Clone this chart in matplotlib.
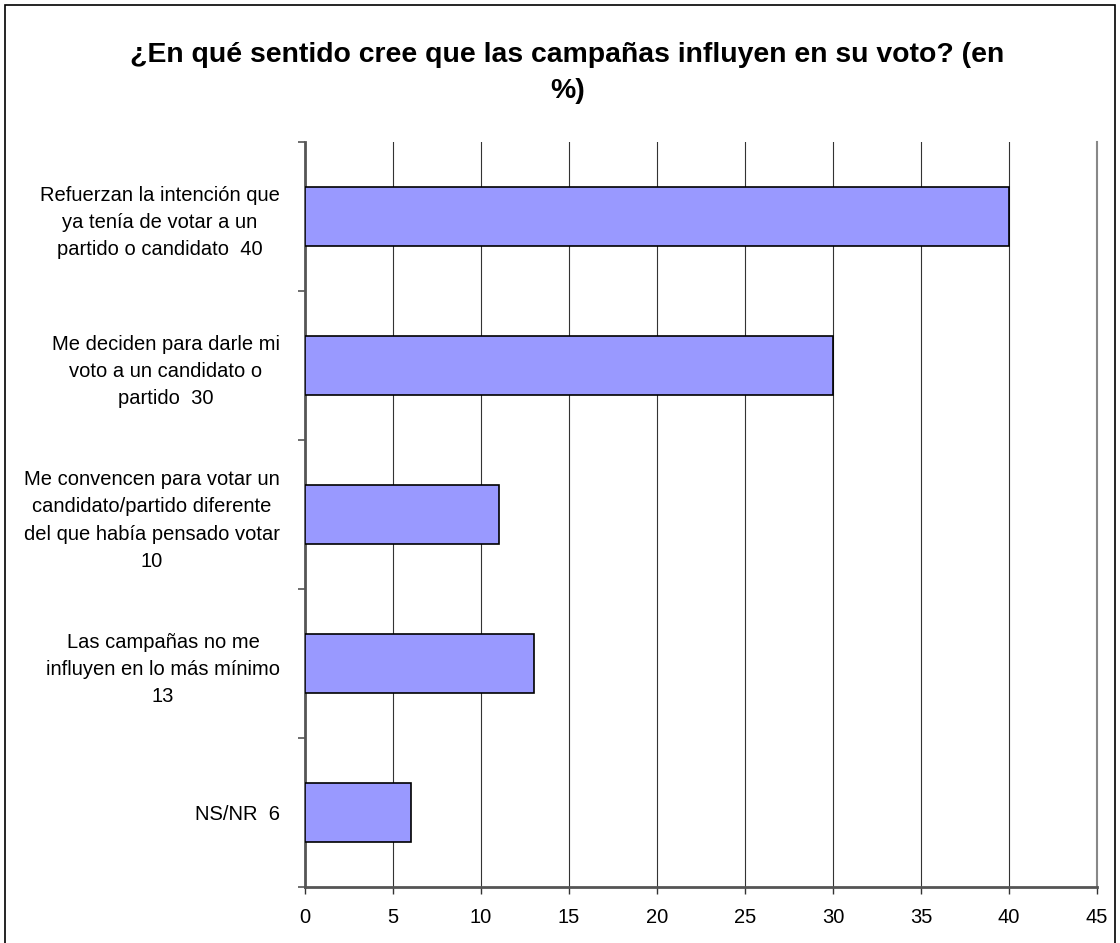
import matplotlib
matplotlib.use("Agg")
import matplotlib.pyplot as plt
from matplotlib.patches import Rectangle
import numpy as np

plt.rcParams['font.family'] = ['Liberation Sans', 'DejaVu Sans']

title = "¿En qué sentido cree que las campañas influyen en su voto? (en\n%)"
categories = [
    "Refuerzan la intención que\nya tenía de votar a un\npartido o candidato  40",
    "Me deciden para darle mi\nvoto a un candidato o\npartido  30",
    "Me convencen para votar un\ncandidato/partido diferente\ndel que había pensado votar\n10",
    "Las campañas no me\ninfluyen en lo más mínimo\n13",
    "NS/NR  6",
]
values = [40, 30, 11, 13, 6]
xticks = [0, 5, 10, 15, 20, 25, 30, 35, 40, 45]

W, H = 1120, 943
fig = plt.figure(figsize=(W / 100, H / 100), dpi=100)
left, right, top, bottom = 305, 1097, 142, 887
ax = fig.add_axes([left / W, 1 - bottom / H, (right - left) / W, (bottom - top) / H])

y = np.arange(len(categories))
ax.barh(y, values, height=0.4, color='#9999FF', edgecolor='black', linewidth=1.2, zorder=3)

ax.set_xlim(0, 45)
ax.set_ylim(len(categories) - 0.5, -0.5)
ax.set_xticks(xticks)
ax.set_xticklabels([str(v) for v in xticks], fontsize=14.5)
ax.xaxis.grid(True, color='#333333', linewidth=0.8, zorder=0)
ax.set_axisbelow(True)
ax.axvline(45, color='#888888', linewidth=1.5, clip_on=False, zorder=1)

ax.set_yticks(y)
ax.set_yticklabels(categories, fontsize=14.5, linespacing=1.55)
for t in ax.get_yticklabels():
    t.set_multialignment('center')
ax.set_yticks(np.arange(-0.5, len(categories) + 0.5, 1), minor=True)
ax.tick_params(axis='y', which='major', length=0, pad=18)
ax.tick_params(axis='y', which='minor', length=5, width=1.2, color='#555555', direction='out')
ax.tick_params(axis='x', length=5, width=1.0, color='#333333', direction='out', pad=10)

for s in ['top', 'right']:
    ax.spines[s].set_visible(False)
for s in ['left', 'bottom']:
    ax.spines[s].set_color('#555555')
    ax.spines[s].set_linewidth(2)

fig.text(0.5 + 7.5 / W, 1 - 73 / H, title, ha='center', va='center', fontsize=20.4,
         fontweight='bold', linespacing=1.5)

border = Rectangle((5 / W, -0.01), (1115 - 5) / W, 1 - 5 / H + 0.01,
                   transform=fig.transFigure, fill=False, edgecolor='black',
                   linewidth=1.2, clip_on=False)
fig.patches.append(border)

fig.savefig('out.png', dpi=100, facecolor='white')
